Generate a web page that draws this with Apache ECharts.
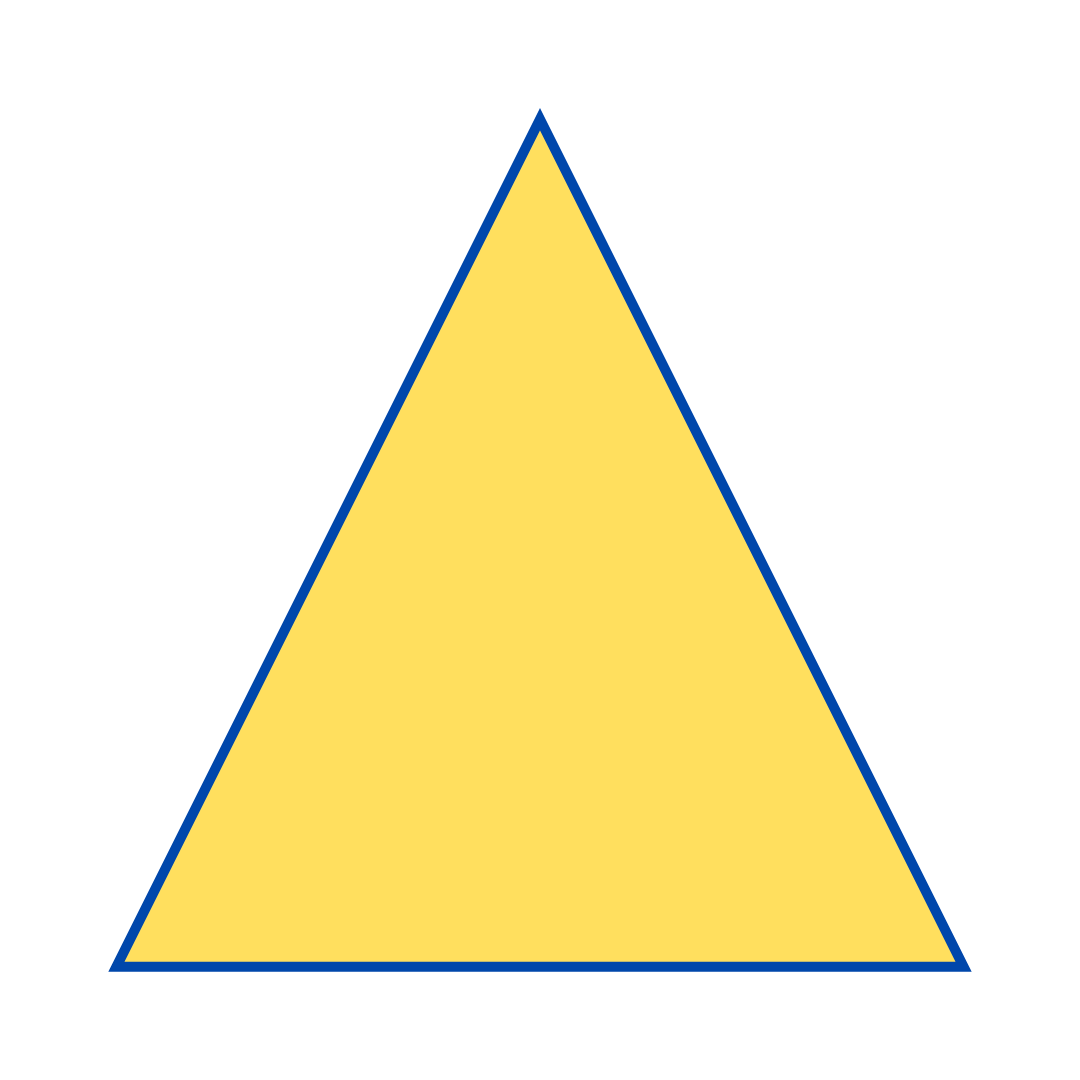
<!DOCTYPE html>
<html>
<head>
<meta charset="utf-8">
<script src="https://cdn.jsdelivr.net/npm/echarts@6/dist/echarts.min.js"></script>
<style>
  html, body { margin: 0; padding: 0; background: #fff; }
  #chart { width: 1080px; height: 1080px; }
</style>
</head>
<body>
<div id="chart"></div>
<script>
// triangle corners in data space (bottom-left, apex, bottom-right)
const cornerX = [0, 0.5, 1];
const cornerY = [0, 1, 0];

const points = cornerX.map((x, i) => [x, cornerY[i]]);

const chart = echarts.init(document.getElementById('chart'));
chart.setOption({
  animation: false,
  grid: { left: 116.4, right: 116.4, top: 119.2, bottom: 113.3 },
  xAxis: { type: 'value', min: 0, max: 1, show: false },
  yAxis: { type: 'value', min: 0, max: 1, show: false },
  series: [{
    type: 'custom',
    data: points,
    renderItem: (params, api) => {
      // whole shape drawn once, from the first item
      if (params.dataIndex !== 0) return null;
      return {
        type: 'polygon',
        shape: { points: points.map((p) => api.coord(p)) },
        style: { fill: '#ffdf5e', stroke: '#0047ab', lineWidth: 10 },
      };
    },
  }],
});
</script>
</body>
</html>
